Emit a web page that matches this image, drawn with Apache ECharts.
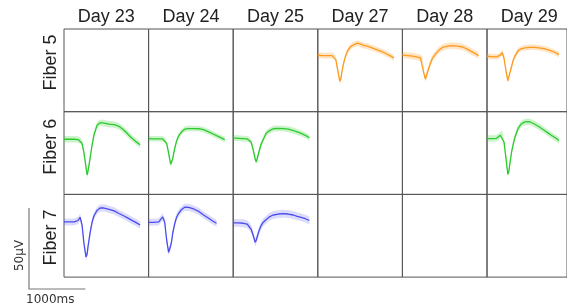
<!DOCTYPE html>
<html>
<head>
    <meta charset="utf-8">
    <title>Fiber waveforms</title>
    <script src="https://cdn.jsdelivr.net/npm/echarts@6.0.0/dist/echarts.min.js"></script>
</head>
<style>
    html, body {margin:0;padding:0;background:#fff}
    #main {width:567px;height:307px}
</style>
<body>
<div id="main"></div>
<script>
    // sample times (ms) shared by every mean waveform
    var timeMs = [0, 90, 180, 250, 285, 320, 355, 390, 410, 425, 460, 495, 530, 585, 640, 710, 800, 890, 975, 1065, 1135, 1205, 1280, 1350];
    var dayLabels = ['Day 23', 'Day 24', 'Day 25', 'Day 27', 'Day 28', 'Day 29'];
    var fiberLabels = ['Fiber 5', 'Fiber 6', 'Fiber 7'];

    // mean waveforms (µV)
    var fiber5Day27 = [0.8, 0.6, 0.6, 0.6, 0.3, -1.9, -8.6, -15.2, -13.6, -9.9, -3.7, 0.6, 3.7, 6.2, 7.4, 8.3, 7.0, 6.3, 5.2, 4.0, 3.1, 1.9, 0.6, -0.8];
    var fiber5Day28 = [0.9, 0.6, 0.3, -0.2, -0.4, -0.8, -1.9, -11.7, -13.9, -11.7, -8.0, -4.3, -1.2, 1.5, 3.7, 5.6, 6.5, 6.8, 6.5, 5.9, 4.9, 3.5, 2.1, 0.6];
    var fiber5Day29 = [0.2, 0, -0.2, 0.9, 2.5, -1.2, -8.6, -14.8, -13.6, -10.5, -6.2, -1.9, 0.6, 3.7, 4.8, 5.4, 5.7, 5.7, 5.4, 4.9, 4.3, 3.5, 2.5, 1.2];
    var fiber6Day23 = [0, 0, 0, -0.2, -0.6, -2.5, -8.6, -17.3, -21.9, -19.8, -12.3, -4.3, 2.5, 8.6, 10.2, 9.9, 9.4, 9.0, 8.0, 5.6, 3.1, 0.6, -1.6, -3.4];
    var fiber6Day24 = [0.4, 0.3, 0.3, 0.2, -0.3, -2.5, -8.6, -15.4, -14.2, -12.3, -6.2, -1.2, 1.9, 4.6, 6.2, 6.6, 6.6, 6.5, 5.9, 4.6, 3.4, 2.2, 1.0, -0.2];
    var fiber6Day25 = [0.8, 0.6, 0.4, 0.2, -0.3, -1.9, -6.5, -12.3, -13.9, -12.0, -7.4, -3.1, -0.3, 3.7, 5.2, 6.5, 6.7, 6.6, 6.2, 5.4, 4.5, 3.6, 2.4, 0.9];
    var fiber6Day29 = [0.4, 0.4, 0.6, 2.5, 3.7, -1.9, -11.5, -21.6, -19.8, -16.0, -8.0, -2.5, 1.9, 6.8, 9.4, 10.7, 10.8, 9.4, 7.7, 5.7, 4.1, 2.5, 0.9, -0.8];
    var fiber7Day23 = [0, 0, 0, 0.9, 2.9, -1.9, -13.6, -21.6, -19.8, -15.4, -7.4, -0.6, 3.7, 7.1, 8.6, 8.6, 7.8, 6.8, 5.2, 3.7, 2.4, 1.0, -0.4, -1.9];
    var fiber7Day24 = [-0.2, -0.2, 0.1, 3.1, 0, -11.1, -18.7, -14.8, -11.7, -7.4, -1.5, 2.8, 5.2, 7.7, 9.1, 9.0, 8.0, 6.5, 4.3, 2.3, 0.6, -0.8, null, null];
    var fiber7Day25 = [-0.5, -0.6, -0.8, -1.4, -2.5, -4.6, -8.3, -12.5, -11.1, -9.3, -5.2, -2.2, -0.3, 1.5, 3.1, 4.3, 4.9, 5.1, 4.9, 4.3, 3.4, 2.8, 2.0, 0.9];

    // standard deviation of each waveform (µV), same order as traces below
    var bandSd = [1.8, 2.0, 1.7, 2.0, 1.7, 1.8, 2.0, 2.2, 2.2, 2.4];

    var fiberColors = ['#ff9a1f', '#2ccb2c', '#4b4bf2'];
    var bandColors = ['rgba(255,154,31,0.26)', 'rgba(44,203,44,0.24)', 'rgba(75,75,242,0.2)'];

    // row = fiber index, col = day index
    var traces = [
        {row: 0, col: 3, data: fiber5Day27},
        {row: 0, col: 4, data: fiber5Day28},
        {row: 0, col: 5, data: fiber5Day29},
        {row: 1, col: 0, data: fiber6Day23},
        {row: 1, col: 1, data: fiber6Day24},
        {row: 1, col: 2, data: fiber6Day25},
        {row: 1, col: 5, data: fiber6Day29},
        {row: 2, col: 0, data: fiber7Day23},
        {row: 2, col: 1, data: fiber7Day24},
        {row: 2, col: 2, data: fiber7Day25}
    ];

    var panelLeft = 64, panelTop = 29, panelW = 84.6, panelH = 82.7;
    var chart = echarts.init(document.getElementById('main'), null, {renderer: 'canvas'});

    var grids = [], xAxes = [], yAxes = [], series = [], graphics = [];
    for (var r = 0; r < 3; r++) {
        for (var c = 0; c < 6; c++) {
            var gi = r * 6 + c;
            grids.push({
                left: panelLeft + c * panelW, top: panelTop + r * panelH,
                width: panelW, height: panelH,
                show: true, borderColor: '#555', borderWidth: 1, backgroundColor: 'transparent'
            });
            xAxes.push({type: 'value', gridIndex: gi, min: 0, max: 1500, show: false});
            yAxes.push({type: 'value', gridIndex: gi, min: -34, max: 17, show: false});
        }
    }

    // shaded band (mean ± sd) drawn as one polygon through the axis scales
    function bandRenderer(values, sd, color) {
        return function (params, api) {
            var upper = [], lower = [];
            for (var k = 0; k < timeMs.length; k++) {
                if (values[k] == null) continue;
                upper.push(api.coord([timeMs[k], values[k] + sd]));
                lower.push(api.coord([timeMs[k], values[k] - sd]));
            }
            return {
                type: 'polygon',
                shape: {points: upper.concat(lower.reverse()), smooth: 0},
                style: {fill: color}
            };
        };
    }

    traces.forEach(function (t, i) {
        var gi = t.row * 6 + t.col;
        var mean = [];
        for (var k = 0; k < timeMs.length; k++) {
            mean.push([timeMs[k], t.data[k]]);
        }
        series.push({
            type: 'custom', coordinateSystem: 'cartesian2d',
            xAxisIndex: gi, yAxisIndex: gi,
            data: [[0, 0]], silent: true, z: 1,
            renderItem: bandRenderer(t.data, bandSd[i], bandColors[t.row])
        });
        series.push({
            type: 'line', xAxisIndex: gi, yAxisIndex: gi, data: mean,
            symbol: 'none', lineStyle: {color: fiberColors[t.row], width: 1.3}, z: 3
        });
    });

    // column and row titles
    dayLabels.forEach(function (d, c) {
        graphics.push({
            type: 'text', x: panelLeft + c * panelW + panelW / 2, y: 17,
            style: {text: d, fontFamily: 'Liberation Sans', fontSize: 18, fill: '#222',
                    textAlign: 'center', textVerticalAlign: 'middle'}
        });
    });
    var fiberCenters = [62.5, 146.7, 237.5];
    fiberLabels.forEach(function (f, r) {
        graphics.push({
            type: 'text', x: 51.5, y: fiberCenters[r], rotation: Math.PI / 2,
            style: {text: f, fontFamily: 'Liberation Sans', fontSize: 18, fill: '#222',
                    textAlign: 'center', textVerticalAlign: 'middle'}
        });
    });

    chart.setOption({
        animation: false,
        backgroundColor: '#fff',
        grid: grids,
        xAxis: xAxes,
        yAxis: yAxes,
        series: series,
        graphic: graphics
    });

    // scale bar from the panels' own scales: 1000 ms and 50 µV
    var p0 = chart.convertToPixel({gridIndex: 0}, [0, 0]);
    var p1 = chart.convertToPixel({gridIndex: 0}, [1000, 50]);
    var barX = 29, barY = 289;
    var lenX = p1[0] - p0[0], lenY = p0[1] - p1[1];
    graphics.push({
        type: 'polyline',
        shape: {points: [[barX, barY - lenY], [barX, barY], [barX + lenX, barY]]},
        style: {stroke: '#777', lineWidth: 1.2, fill: null}
    });
    graphics.push({
        type: 'text', x: 20, y: barY - lenY / 2 + 7, rotation: Math.PI / 2,
        style: {text: '50µV', fontFamily: 'DejaVu Sans', fontSize: 12, fill: '#333',
                textAlign: 'center', textVerticalAlign: 'middle'}
    });
    graphics.push({
        type: 'text', x: 26, y: 300,
        style: {text: '1000ms', fontFamily: 'DejaVu Sans', fontSize: 12, fill: '#333',
                textAlign: 'left', textVerticalAlign: 'middle'}
    });
    chart.setOption({graphic: graphics});

    window.onresize = function () {
        chart.resize();
    };
</script>
</body>
</html>
